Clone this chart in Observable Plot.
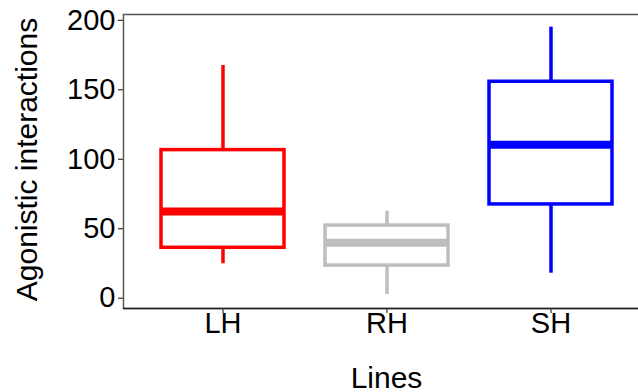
<!DOCTYPE html>
<html><head><meta charset="utf-8">
<script src="https://cdn.jsdelivr.net/npm/d3@7"></script>
<script src="https://cdn.jsdelivr.net/npm/@observablehq/plot@0.6"></script>
<style>
html,body{margin:0;padding:0;background:#fff;overflow:hidden;}
#chart svg{display:block;}
</style>
</head><body><div id="chart"></div>
<script>
const lines = ["LH", "RH", "SH"];
const lower = [24.8, 2.7, 18];
const q1 = [36.3, 23.5, 67.5];
const median = [62.4, 39.9, 110.4];
const q3 = [106.6, 52.3, 155.8];
const upper = [167.5, 62.6, 195.1];
const colors = ["#FF0000", "#BEBEBE", "#0000FF"];
const yTicks = [0, 50, 100, 150, 200];
const xTitle = "Lines";
const yTitle = "Agonistic interactions";

const data = lines.map((l, i) => ({line: l, lower: lower[i], q1: q1[i], median: median[i], q3: q3[i], upper: upper[i]}));

const chart = Plot.plot({
  width: 638, height: 392,
  marginLeft: 123, marginTop: 14, marginBottom: 84, marginRight: -11,
  style: {fontFamily: "'Liberation Sans', Arial, sans-serif", background: "white", overflow: "hidden", color: "black"},
  x: {type: "band", domain: lines, paddingInner: 0.25, paddingOuter: 0.225, align: 0.5},
  y: {domain: [-7.4, 204.2]},
  color: {domain: lines, range: colors},
  marks: [
    Plot.frame({stroke: "#555", strokeWidth: 1.5}),
    Plot.ruleX(data, {x: "line", y1: "q3", y2: "upper", stroke: "line", strokeWidth: 3.5}),
    Plot.ruleX(data, {x: "line", y1: "lower", y2: "q1", stroke: "line", strokeWidth: 3.5}),
    Plot.barY(data, {x: "line", y1: "q1", y2: "q3", stroke: "line", fill: "white", strokeWidth: 3.5}),
    Plot.tickY(data, {x: "line", y: "median", stroke: "line", strokeWidth: 8}),
    Plot.ruleY([-7.4], {stroke: "#222", strokeWidth: 1.5}),
    Plot.axisY({ticks: yTicks, tickSize: 5, tickPadding: 3, fontSize: 29, label: null, stroke: "#333", strokeWidth: 1.2}),
    Plot.axisX({tickSize: 5, tickPadding: -1, fontSize: 29, label: null, stroke: "#333", strokeWidth: 1.2}),
    Plot.text([yTitle], {frameAnchor: "left", textAnchor: "middle", text: d => d, rotate: -90, dx: -96, dy: -2, fontSize: 30, lineAnchor: "middle", fill: "black"}),
    Plot.text([xTitle], {frameAnchor: "bottom", textAnchor: "middle", text: d => d, dy: 79, fontSize: 30, lineAnchor: "bottom", fill: "black"})
  ]
});
document.getElementById("chart").appendChild(chart);
</script>
</body></html>
